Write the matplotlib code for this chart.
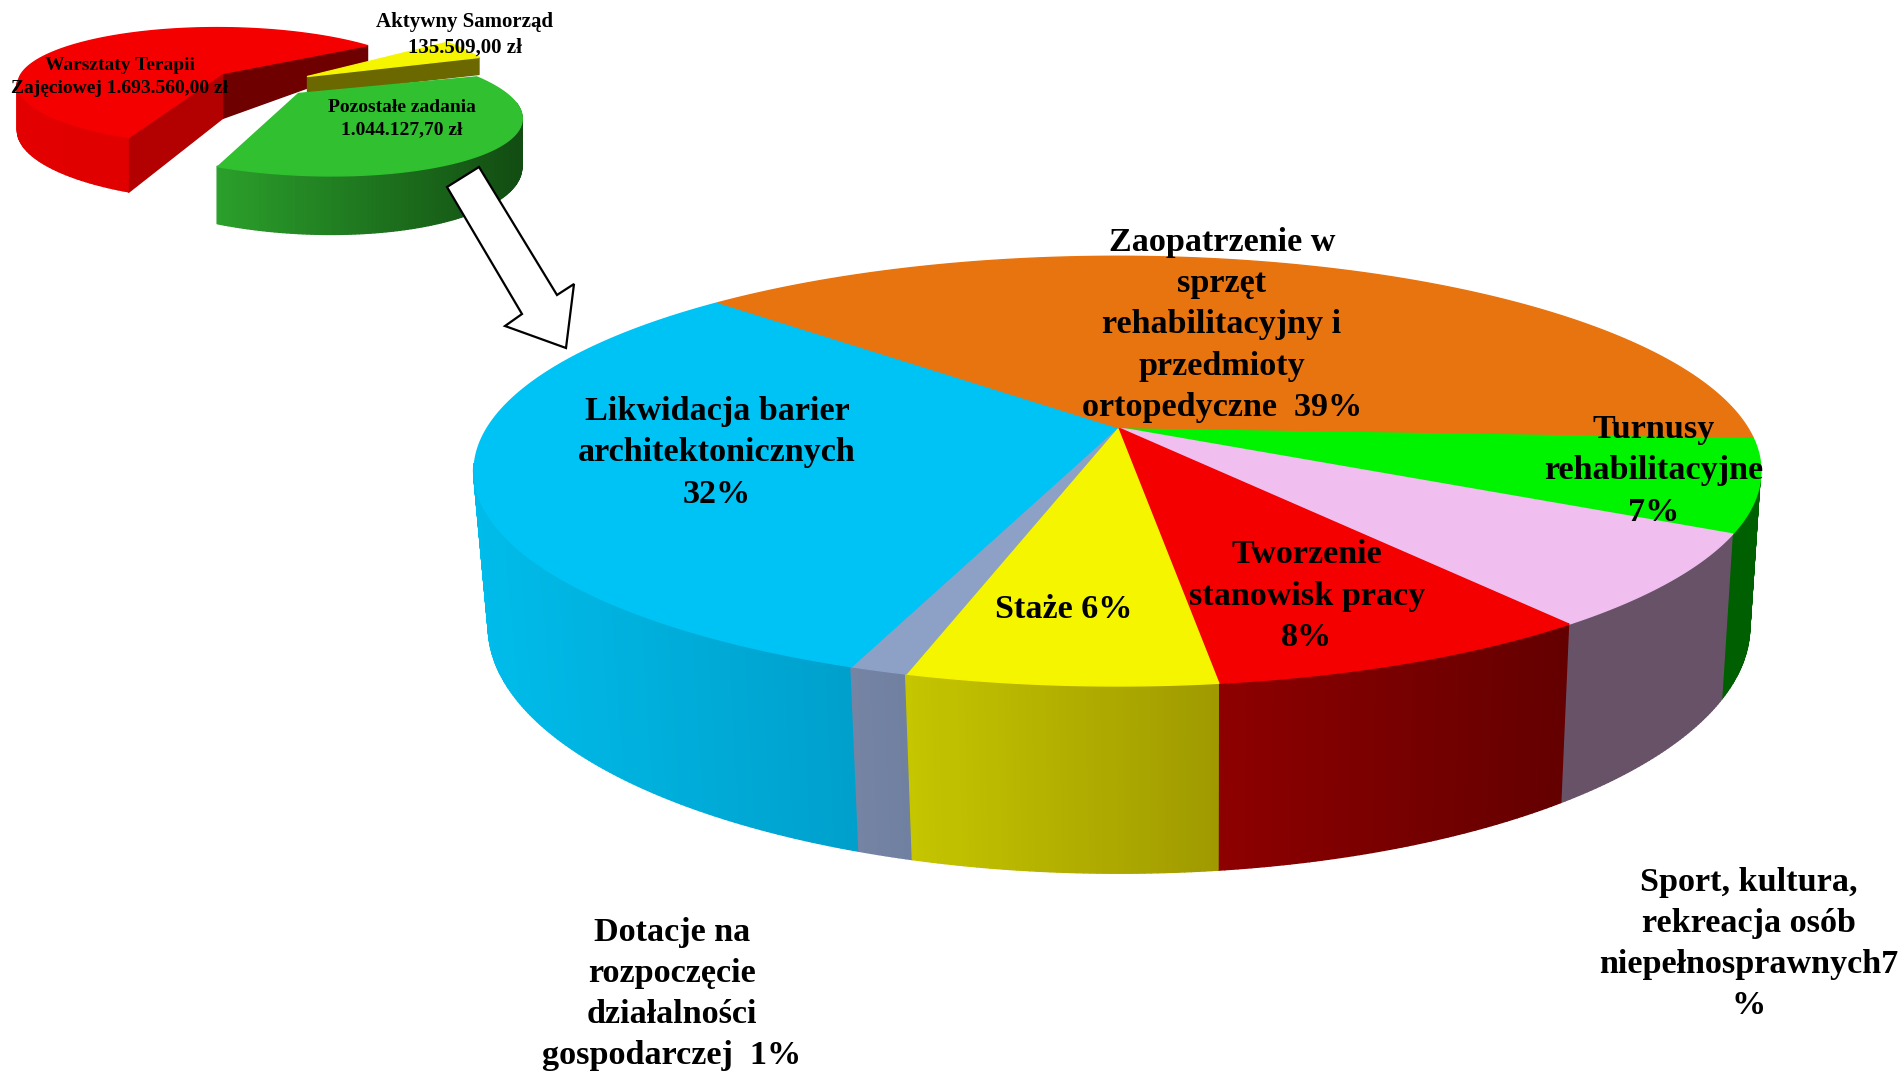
import numpy as np
import matplotlib
matplotlib.use("Agg")
import matplotlib.pyplot as plt
from matplotlib.collections import PolyCollection
from matplotlib.patches import Polygon

# ---- data ----
big_categories = ["Turnusy rehabilitacyjne", "Sport, kultura, rekreacja", "Tworzenie stanowisk pracy",
                  "Staże", "Dotacje", "Likwidacja barier", "Zaopatrzenie"]
big_values = [7.0, 7.0, 8.2, 6.4, 1.2, 31.6, 38.6]
small_categories = ["Warsztaty Terapii Zajęciowej", "Aktywny Samorząd", "Pozostałe zadania"]
small_values = [1693560.00, 135509.00, 1044127.70]

big_labels = ["Turnusy\nrehabilitacyjne\n7%", "Sport, kultura,\nrekreacja osób\nniepełnosprawnych7\n%",
              "Tworzenie\nstanowisk pracy\n8%", "Staże 6%", "Dotacje na\nrozpoczęcie\ndziałalności\ngospodarczej  1%",
              "Likwidacja barier\narchitektonicznych\n32%",
              "Zaopatrzenie w\nsprzęt\nrehabilitacyjny i\nprzedmioty\nortopedyczne  39%"]
small_labels = ["Warsztaty Terapii\nZajęciowej 1.693.560,00 zł", "Aktywny Samorząd\n135.509,00 zł",
                "Pozostałe zadania\n1.044.127,70 zł"]

# ---- styles ----
FONT = "Liberation Serif"
BIG_TOP = ["#00F400", "#F0BFF0", "#F40000", "#F5F500", "#8DA0C6", "#00C3F5", "#E87410"]
BIG_WALL = [("#005F00", "#005F00"), ("#685268", "#685268"), ("#640000", "#8E0000"),
            ("#A09A00", "#C6C600"), ("#7080A0", "#7684A4"), ("#00A0CC", "#00BCEA"), ("#E87410", "#E87410")]
BIG_LABEL_POS = [(1654, 471), (1749, 944), (1307, 596), (1064, 610), (672, 994), (717, 453), (1222, 325)]
SMALL_TOP = ["#F40000", "#F5F500", "#30C030"]
SMALL_WALL = [("#E00000", "#E80000"), ("#6B6800", "#6B6800"), ("#124C12", "#2BA02B")]
SMALL_LABEL_POS = [(120, 77), (465, 35), (402, 119)]
SMALL_LABEL_SIZE = [14, 15, 14]

fig = plt.figure(figsize=(19.03, 10.75), dpi=100, facecolor="white")
ax = fig.add_axes([0, 0, 1, 1])
ax.set_xlim(0, 1903)
ax.set_ylim(1075, 0)
ax.axis("off")


def project(theta, g):
    u, v = np.cos(np.radians(theta)), -np.sin(np.radians(theta))
    d = 1 - g["k"] * v
    y = g["b"] * v / d
    x = g["a"] * u / d + g.get("shear", 0) * y
    return g["cx"] + x, g["cy"] + y, v


def mix(c1, c2, t):
    a, b = np.array(matplotlib.colors.to_rgb(c1)), np.array(matplotlib.colors.to_rgb(c2))
    return tuple(a + (b - a) * np.clip(t, 0, 1))


def spans(values, start):
    edges = start - np.cumsum([0] + list(values)) / np.sum(values) * 360
    return list(zip(edges[:-1], edges[1:]))


def add_polys(polys, colors, z):
    ax.add_collection(PolyCollection(polys, facecolors=colors, edgecolors=colors, linewidths=1.0, zorder=z))


# ---- large pie ----
TOP = dict(cx=1117, cy=427, a=630, b=206, k=0.203)
BOT = dict(cx=1119, cy=577, a=618, b=237, k=0.20)
VIS = 0.18
big_spans = spans(big_values, -2.7)
bands, band_cols, band_v = [], [], []
for (t0, t1), cols in zip(big_spans, BIG_WALL):
    n = max(int(abs(t1 - t0) * 2), 2)
    ts = np.linspace(t0, t1, n + 1)
    xs, _, vs = project(ts, TOP)
    vis = vs > VIS
    xr = xs[vis].max() if vis.any() else 1
    xl = xs[vis].min() if vis.any() else 0
    for i in range(n):
        x0, y0, v0 = project(ts[i], TOP)
        x1, y1, _ = project(ts[i + 1], TOP)
        x2, y2, _ = project(ts[i + 1], BOT)
        x3, y3, _ = project(ts[i], BOT)
        if v0 > VIS:
            bands.append([(x0, y0), (x1, y1), (x2, y2), (x3, y3)])
            band_cols.append(mix(cols[0], cols[1], (xr - x0) / max(xr - xl, 1)))
            band_v.append(v0)
order = np.argsort(band_v)
add_polys([bands[i] for i in order], [band_cols[i] for i in order], 2)

for (t0, t1), col in zip(big_spans, BIG_TOP):
    ts = np.linspace(t0, t1, 200)
    x, y, _ = project(ts, TOP)
    add_polys([[(TOP["cx"], TOP["cy"])] + list(zip(x, y))], [col], 3)

for txt, (x, y) in zip(big_labels, BIG_LABEL_POS):
    ax.text(x, y, txt, family=FONT, weight="bold", fontsize=24.6, ha="center", va="center",
            linespacing=1.42, color="black", zorder=10)

# ---- small exploded pie ----
SMALL_GEOM = [dict(cx=222, cy=73, a=201, b=56, k=0.22, shear=0.12),
              dict(cx=307, cy=76, a=193, b=70, k=0.26),
              dict(cx=298, cy=93, a=208, b=61, k=0.26, shear=0.40)]
SMALL_DEPTH = [lambda Y: 45 + np.where(Y < 0, 0.87, 0.15) * Y,
               lambda Y: 17 + 0 * Y,
               lambda Y: 45 + 0.17 * Y]
small_spans = spans(small_values, 246.2)
for (t0, t1), g, dep, top, wall in zip(small_spans, SMALL_GEOM, SMALL_DEPTH, SMALL_TOP, SMALL_WALL):
    ts = np.linspace(t0, t1, 160)
    x, y, v = project(ts, g)
    Y = y - g["cy"]
    d = dep(Y)
    cx, cy = g["cx"], g["cy"]
    apex_d = float(dep(np.array(0.0)))
    # radial walls that face the viewer
    if top == SMALL_TOP[0]:
        ends = [(x[-1], y[-1], d[-1], "#6E0000"), (x[0], y[0], d[0], "#B30000")]
    elif top == SMALL_TOP[1]:
        ends = [(x[-1], y[-1], d[-1], wall[0])]
    else:
        ends = []
    for ex, ey, ed, c in ends:
        add_polys([[(cx, cy), (ex, ey), (ex, ey + ed), (cx, cy + apex_d)]], [c], 4)
    # outer wall
    polys, cols = [], []
    for i in range(len(ts) - 1):
        if v[i] > 0.15 and top != SMALL_TOP[1]:
            polys.append([(x[i], y[i]), (x[i + 1], y[i + 1]), (x[i + 1], y[i + 1] + d[i + 1]), (x[i], y[i] + d[i])])
            cols.append(mix(wall[0], wall[1], (x[0] - x[i]) / (x.max() - x.min()) if top == SMALL_TOP[0]
                            else (x.max() - x[i]) / (x.max() - x.min())))
    if polys:
        add_polys(polys, cols, 4)
    add_polys([[(cx, cy)] + list(zip(x, y))], [top], 5)

for txt, (x, y), fs in zip(small_labels, SMALL_LABEL_POS, SMALL_LABEL_SIZE):
    ax.text(x, y, txt, family=FONT, weight="bold", fontsize=fs, ha="center", va="center",
            linespacing=1.4, color="black", zorder=10)

# ---- connecting arrow ----
arrow_outline = [(479, 167), (447, 187), (522, 314), (505, 326), (566, 348), (574, 284), (557, 295)]
ax.add_patch(Polygon(arrow_outline, closed=True, facecolor="white", edgecolor="black", linewidth=1.6, zorder=8))

fig.savefig("out.png", dpi=100, facecolor="white")
